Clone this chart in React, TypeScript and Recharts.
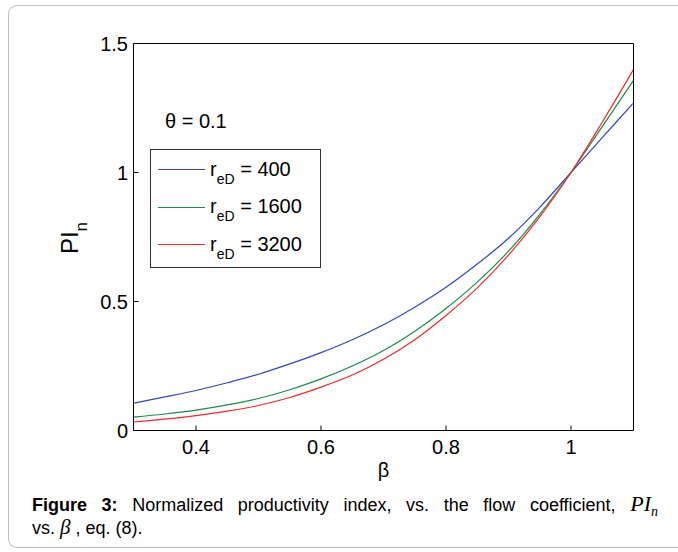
import React from 'react';
import { LineChart, Line, XAxis, YAxis, Legend } from 'recharts';

// Flow coefficient samples along the horizontal axis
const betaValues = [0.3, 0.35, 0.4, 0.45, 0.5, 0.55, 0.6, 0.65, 0.7, 0.75, 0.8, 0.85, 0.9, 0.95, 1.0, 1.05, 1.1];

// Normalized productivity index for each dimensionless drainage radius
const piR400 = [0.106, 0.13, 0.155, 0.185, 0.218, 0.258, 0.302, 0.352, 0.41, 0.478, 0.555, 0.645, 0.745, 0.865, 1.0, 1.135, 1.27];
const piR1600 = [0.052, 0.064, 0.079, 0.099, 0.124, 0.158, 0.2, 0.25, 0.31, 0.385, 0.473, 0.575, 0.695, 0.838, 1.0, 1.178, 1.357];
const piR3200 = [0.033, 0.044, 0.058, 0.075, 0.097, 0.128, 0.168, 0.215, 0.276, 0.352, 0.446, 0.553, 0.68, 0.828, 1.0, 1.195, 1.399];

const radii = [400, 1600, 3200];
const seriesKeys = ['r400', 'r1600', 'r3200'];
const seriesColors = ['#3347c0', '#1e8a46', '#f02a2a'];

const xTicks = [0.4, 0.6, 0.8, 1];
const yTicks = [0, 0.5, 1, 1.5];

const rows = betaValues.map((beta, i) => ({
  beta,
  r400: piR400[i],
  r1600: piR1600[i],
  r3200: piR3200[i],
}));

const SANS = '"Liberation Sans", Arial, Helvetica, sans-serif';
const SERIF = '"Liberation Serif", "Times New Roman", serif';

const tickStyle = { fontSize: 20, fill: '#000', fontFamily: SANS };

function LegendBox(props: any) {
  const items = [...(props.payload || [])].sort(
    (a: any, b: any) => Number(a.value) - Number(b.value)
  );
  return (
    <div style={{ paddingTop: 1, fontFamily: SANS }}>
      {items.map((entry: any) => {
        const idx = radii.indexOf(Number(entry.value));
        const color = idx >= 0 ? seriesColors[idx] : entry.color;
        return (
          <div key={entry.value} style={{ height: 37.5, display: 'flex', alignItems: 'center' }}>
            <span
              style={{
                display: 'inline-block',
                width: 47,
                height: 1,
                marginLeft: 7,
                background: color,
              }}
            />
            <span style={{ marginLeft: 5, fontSize: 20, lineHeight: '20px', color: '#000', whiteSpace: 'nowrap' }}>
              r<span style={{ fontSize: 14, position: 'relative', top: 8 }}>eD</span> = {entry.value}
            </span>
          </div>
        );
      })}
    </div>
  );
}

export default function App() {
  return (
    <div style={{ position: 'absolute', left: 0, top: 0, width: 678, height: 552, overflow: 'hidden', background: '#fff' }}>
      {/* panel outline */}
      <div
        style={{
          position: 'absolute',
          left: 8,
          top: 5,
          width: 672,
          height: 543,
          border: '1px solid #bdbdbd',
          borderRight: 'none',
          borderRadius: '9px 0 0 9px',
          boxSizing: 'border-box',
        }}
      />
      <div style={{ position: 'absolute', left: 0, top: 0 }}>
        <LineChart
          width={678}
          height={552}
          data={rows}
          margin={{ top: 42.5, right: 43.5, bottom: 91.5, left: 73.5 }}
        >
          <XAxis
            xAxisId="b"
            dataKey="beta"
            type="number"
            domain={[0.3, 1.1]}
            ticks={xTicks}
            interval={0}
            height={30}
            tickSize={-5}
            tickMargin={14.5}
            axisLine={{ stroke: '#000' }}
            tickLine={{ stroke: '#000' }}
            tick={tickStyle}
          />
          <XAxis
            xAxisId="t"
            orientation="top"
            dataKey="beta"
            type="number"
            domain={[0.3, 1.1]}
            ticks={xTicks}
            interval={0}
            height={1}
            tickSize={-5}
            axisLine={{ stroke: '#000' }}
            tickLine={{ stroke: '#000' }}
            tick={false}
          />
          <YAxis
            yAxisId="l"
            type="number"
            domain={[0, 1.5]}
            ticks={yTicks}
            interval={0}
            width={60}
            tickSize={-5}
            tickMargin={10.5}
            axisLine={{ stroke: '#000' }}
            tickLine={{ stroke: '#000' }}
            tick={tickStyle}
          />
          <YAxis
            yAxisId="r"
            orientation="right"
            type="number"
            domain={[0, 1.5]}
            ticks={yTicks}
            interval={0}
            width={1}
            tickSize={-5}
            axisLine={{ stroke: '#000' }}
            tickLine={{ stroke: '#000' }}
            tick={false}
          />
          {seriesKeys.map((key, i) => (
            <Line
              key={key}
              xAxisId="b"
              yAxisId="l"
              type="monotone"
              dataKey={key}
              name={String(radii[i])}
              stroke={seriesColors[i]}
              strokeWidth={1.2}
              dot={false}
              activeDot={false}
              isAnimationActive={false}
            />
          ))}
          <Legend
            layout="vertical"
            align="center"
            verticalAlign="middle"
            content={LegendBox}
            wrapperStyle={{
              left: 150,
              top: 149,
              width: 171,
              height: 119,
              border: '1px solid #333',
              background: '#fff',
              boxSizing: 'border-box',
            }}
          />
          <text x={165} y={128} fontSize={20} fontFamily={SANS} fill="#000">
            θ = 0.1
          </text>
          <text x={383.5} y={477} fontSize={20} fontFamily={SANS} fill="#000" textAnchor="middle">
            β
          </text>
          <text
            transform="translate(78,238) rotate(-90)"
            fontSize={24}
            fontFamily={SANS}
            fill="#000"
            textAnchor="middle"
          >
            PI<tspan fontSize={17} dy={9}>n</tspan>
          </text>
        </LineChart>
      </div>
      {/* figure caption */}
      <div
        style={{
          position: 'absolute',
          left: 32,
          top: 494,
          width: 626,
          fontFamily: SANS,
          fontSize: 18,
          lineHeight: '22px',
          color: '#000',
          textAlign: 'justify',
          textAlignLast: 'justify',
          whiteSpace: 'nowrap',
        }}
      >
        <b>Figure 3:</b> Normalized productivity index, vs. the flow coefficient,{' '}
        <span style={{ fontFamily: SERIF, fontStyle: 'italic', fontSize: 22, lineHeight: '18px' }}>
          PI<sub style={{ fontSize: 14, verticalAlign: '-5px', lineHeight: '10px' }}>n</sub>
        </span>
      </div>
      <div
        style={{
          position: 'absolute',
          left: 32,
          top: 517,
          fontFamily: SANS,
          fontSize: 18,
          lineHeight: '22px',
          color: '#000',
          whiteSpace: 'nowrap',
        }}
      >
        vs. <span style={{ fontFamily: SERIF, fontStyle: 'italic', fontSize: 21, lineHeight: '18px' }}>β</span> , eq. (8).
      </div>
    </div>
  );
}
